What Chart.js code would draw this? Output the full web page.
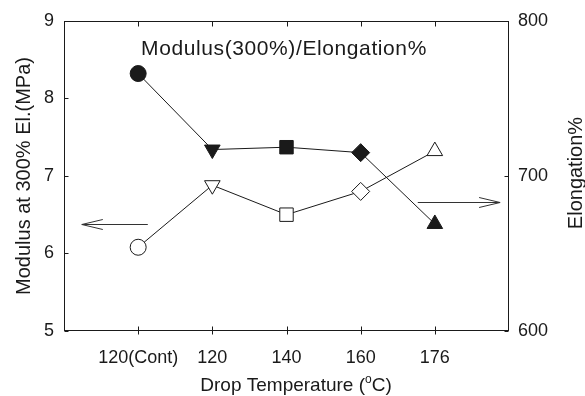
<!DOCTYPE html>
<html lang="en">
<head>
<meta charset="UTF-8">
<title>Modulus(300%)/Elongation%</title>
<script src="https://cdn.jsdelivr.net/npm/chart.js"></script>
<style>
    body { margin: 0; background: #fff; }
    #wrap { width: 585px; height: 396px; }
</style>
</head>
<body>
<div id="wrap"><canvas id="chart"></canvas></div>
<script>
// values
const categories = ['120(Cont)', '120', '140', '160', '176'];
const modulus = [8.32, 7.34, 7.37, 7.30, 6.38];      // MPa, left axis, filled marks
const elongation = [654, 694, 675, 690, 716];        // %, right axis, open marks
const modulusTicks = [5, 6, 7, 8, 9];
const elongationTicks = [600, 700, 800];
const leftArrowX = [1.13, 0.24];   // tail, tip
const leftArrowY = 6.38;
const rightArrowX = [4.77, 5.88];
const rightArrowY = 683;

const markStyles = ['circle', 'triangle', 'rect', 'rectRot', 'triangle'];
const markRotation = [0, 180, 0, 0, 0];
const markRadius = [8, 9, 9.5, 9, 9];

const FONT = 'Liberation Sans, Arial, sans-serif';
const INK = '#1a1a1a';

function arrow(ctx, x0, x1, y) {
    const dir = Math.sign(x1 - x0);
    ctx.beginPath();
    ctx.moveTo(x0, y);
    ctx.lineTo(x1, y);
    ctx.moveTo(x1 - dir * 21, y - 5);
    ctx.lineTo(x1, y);
    ctx.lineTo(x1 - dir * 21, y + 5);
    ctx.stroke();
}

function rotatedText(ctx, text, x, y) {
    ctx.save();
    ctx.translate(x, y);
    ctx.rotate(-Math.PI / 2);
    ctx.textAlign = 'center';
    ctx.textBaseline = 'alphabetic';
    ctx.fillText(text, 0, 0);
    ctx.restore();
}

const framePlugin = {
    id: 'frame',
    beforeDraw(chart) {
        const ctx = chart.ctx;
        ctx.save();
        ctx.fillStyle = '#fff';
        ctx.fillRect(0, 0, chart.width, chart.height);
        ctx.restore();
    },
    beforeDatasetsDraw(chart) {
        const { ctx, chartArea: a, scales } = chart;
        const L = Math.round(a.left) + 0.5, R = Math.round(a.right) - 0.5;
        const T = Math.round(a.top) + 0.5, B = Math.round(a.bottom) - 0.5;
        ctx.save();
        ctx.strokeStyle = INK;
        ctx.lineWidth = 1;
        ctx.strokeRect(L, T, R - L, B - T);
        ctx.beginPath();
        modulusTicks.forEach(v => {
            const y = Math.round(scales.y.getPixelForValue(v)) + 0.5;
            ctx.moveTo(L, y); ctx.lineTo(L + 4, y);
        });
        elongationTicks.forEach(v => {
            const y = Math.round(scales.y1.getPixelForValue(v)) + 0.5;
            ctx.moveTo(R - 4, y); ctx.lineTo(R, y);
        });
        categories.forEach((c, i) => {
            const x = Math.round(scales.x.getPixelForValue(i + 1)) + 0.5;
            ctx.moveTo(x, B - 4); ctx.lineTo(x, B + 4);
            ctx.moveTo(x, T); ctx.lineTo(x, T + 5);
        });
        ctx.stroke();
        ctx.restore();
    },
    afterDraw(chart) {
        const { ctx, scales } = chart;
        ctx.save();
        ctx.strokeStyle = '#333';
        ctx.lineWidth = 1;
        arrow(ctx, scales.x.getPixelForValue(leftArrowX[0]), scales.x.getPixelForValue(leftArrowX[1]),
            Math.round(scales.y.getPixelForValue(leftArrowY)) + 0.5);
        arrow(ctx, scales.x.getPixelForValue(rightArrowX[0]), scales.x.getPixelForValue(rightArrowX[1]),
            Math.round(scales.y1.getPixelForValue(rightArrowY)) + 0.5);

        ctx.fillStyle = INK;
        // title inside the plot
        ctx.font = '21px ' + FONT;
        ctx.letterSpacing = '0.6px';
        ctx.textAlign = 'center';
        ctx.textBaseline = 'alphabetic';
        ctx.fillText('Modulus(300%)/Elongation%', 284, 55);

        // y axis titles
        ctx.font = '20px ' + FONT;
        ctx.letterSpacing = '0px';
        rotatedText(ctx, 'Modulus at 300% El.(MPa)', 30, 176);
        rotatedText(ctx, 'Elongation%', 582, 173);

        // x axis title with superscript o
        ctx.font = '19px ' + FONT;
        const p1 = 'Drop Temperature (', p2 = 'C)';
        ctx.textAlign = 'left';
        const w1 = ctx.measureText(p1).width, w3 = ctx.measureText(p2).width;
        ctx.font = '12px ' + FONT;
        const w2 = ctx.measureText('o').width;
        let x = 296 - (w1 + w2 + w3) / 2;
        ctx.font = '19px ' + FONT;
        ctx.fillText(p1, x, 391);
        ctx.font = '12px ' + FONT;
        ctx.fillText('o', x + w1, 383);
        ctx.font = '19px ' + FONT;
        ctx.fillText(p2, x + w1 + w2, 391);
        ctx.restore();
    }
};

const tickFont = { family: FONT, size: 18 };

new Chart(document.getElementById('chart'), {
    type: 'line',
    data: {
        datasets: [{
            label: 'Modulus at 300% El.(MPa)',
            data: modulus.map((v, i) => ({ x: i + 1, y: v })),
            yAxisID: 'y',
            borderColor: INK,
            borderWidth: 1,
            pointStyle: markStyles,
            pointRotation: markRotation,
            pointRadius: markRadius,
            pointBackgroundColor: INK,
            pointBorderColor: INK,
            pointBorderWidth: 1
        }, {
            label: 'Elongation%',
            data: elongation.map((v, i) => ({ x: i + 1, y: v })),
            yAxisID: 'y1',
            borderColor: INK,
            borderWidth: 1,
            pointStyle: markStyles,
            pointRotation: markRotation,
            pointRadius: markRadius,
            pointBackgroundColor: '#fff',
            pointBorderColor: INK,
            pointBorderWidth: 1
        }]
    },
    options: {
        responsive: true,
        maintainAspectRatio: false,
        animation: false,
        layout: { padding: { top: 19, left: 0, right: 0, bottom: 0 } },
        scales: {
            x: {
                type: 'linear',
                min: 0,
                max: 6,
                afterBuildTicks: s => { s.ticks = categories.map((c, i) => ({ value: i + 1 })); },
                afterFit: s => { s.height = 65; },
                ticks: {
                    callback: v => categories[v - 1],
                    autoSkip: false,
                    maxRotation: 0,
                    padding: 16,
                    font: tickFont,
                    color: INK
                },
                grid: { display: false, drawTicks: false },
                border: { display: false }
            },
            y: {
                position: 'left',
                min: 5,
                max: 9,
                afterBuildTicks: s => { s.ticks = modulusTicks.map(v => ({ value: v })); },
                afterFit: s => { s.width = 64; },
                ticks: { padding: 10, font: tickFont, color: INK },
                grid: { display: false, drawTicks: false },
                border: { display: false }
            },
            y1: {
                position: 'right',
                min: 600,
                max: 800,
                afterBuildTicks: s => { s.ticks = elongationTicks.map(v => ({ value: v })); },
                afterFit: s => { s.width = 76; },
                ticks: { padding: 9, font: tickFont, color: INK },
                grid: { display: false, drawTicks: false },
                border: { display: false }
            }
        },
        plugins: {
            legend: { display: false },
            tooltip: { enabled: false }
        }
    },
    plugins: [framePlugin]
});
</script>
</body>
</html>
